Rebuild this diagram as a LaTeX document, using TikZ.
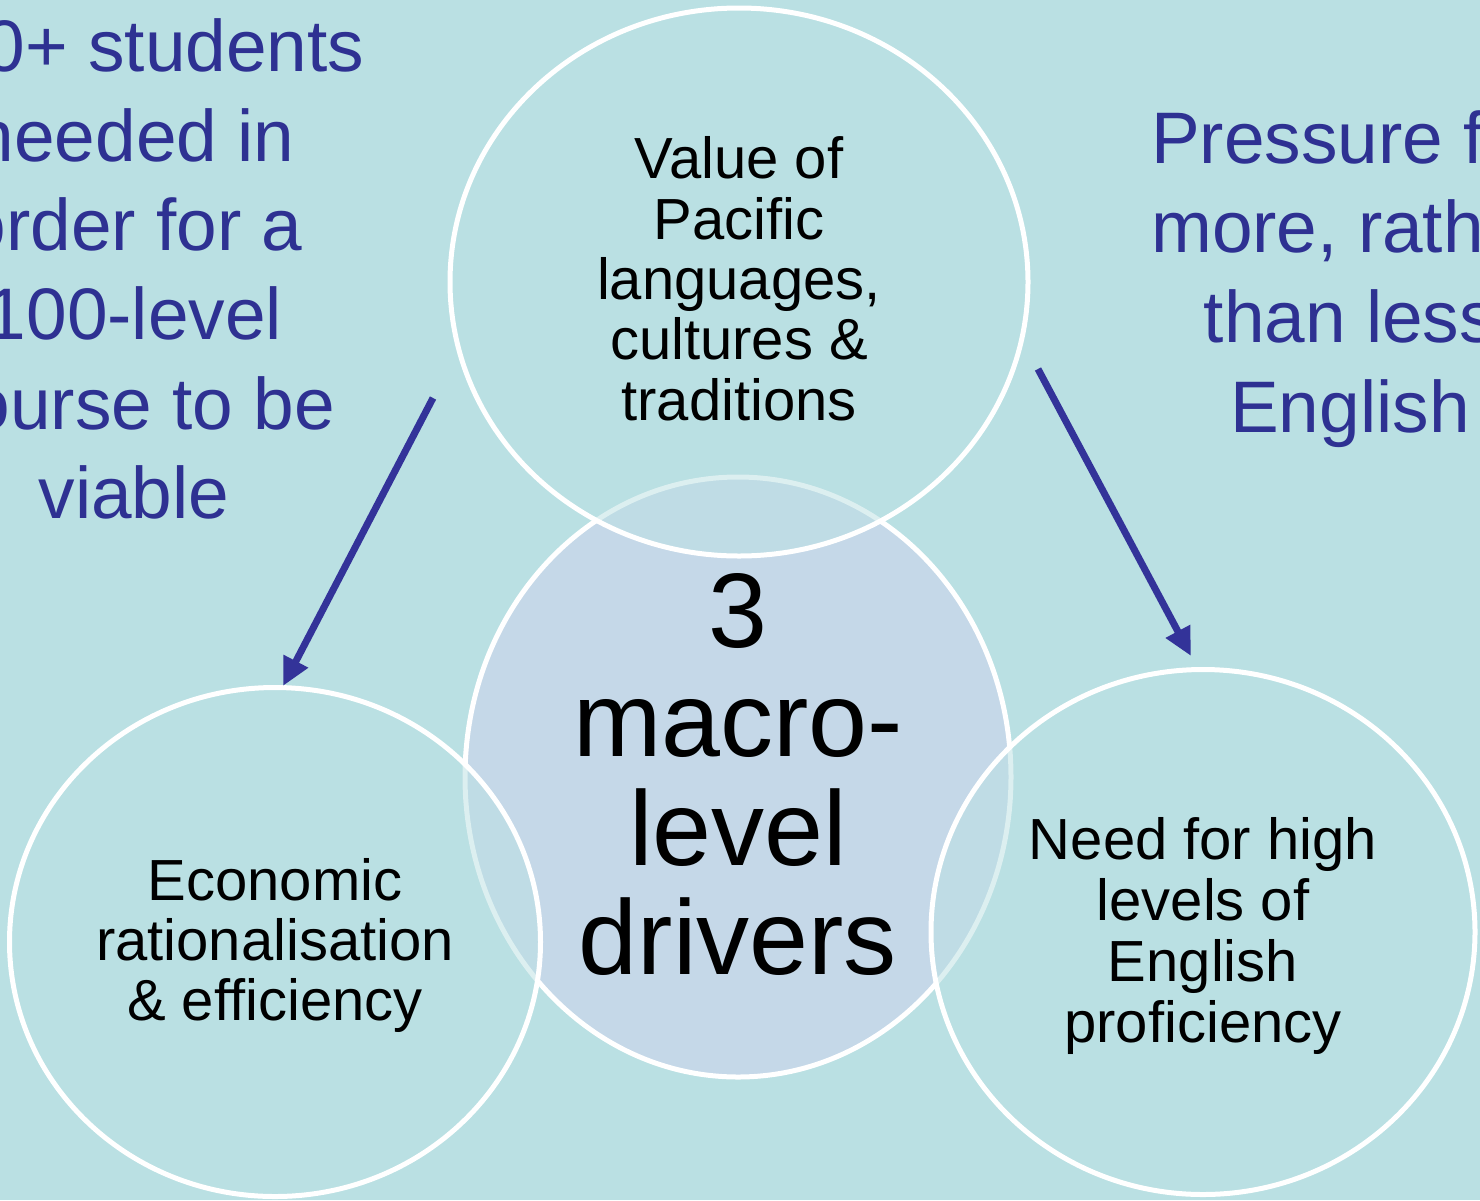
\documentclass[tikz,border=0pt]{standalone}
\usepackage{fontspec}
\setmainfont{Liberation Sans}
\usetikzlibrary{shapes.geometric,arrows.meta}
\definecolor{bgc}{RGB}{186,224,227}
\definecolor{midc}{RGB}{197,216,232}
\definecolor{bluetxt}{RGB}{46,49,146}
\definecolor{arrowc}{RGB}{51,51,153}
\tikzset{
  outer/.style={ellipse, draw=white, line width=5pt, fill=bgc, fill opacity=0.5, text opacity=1, inner sep=0pt, align=center, text=black},
  inner/.style={ellipse, draw=white, draw opacity=1, line width=5pt, fill=midc, inner sep=0pt, align=center, text=black},
  bluenote/.style={anchor=north, inner sep=0pt, align=center, text=bluetxt},
  driverarrow/.style={draw=arrowc, line width=7pt, -{Triangle[length=28pt,width=26pt]}},
}
\begin{document}
\begin{tikzpicture}[x=1pt,y=-1pt]
\useasboundingbox (0,0) rectangle (1480,1200);
\fill[bgc] (0,0) rectangle (1480,1200);
\clip (0,0) rectangle (1480,1200);
% centre circle
\node[inner, minimum width=546pt, minimum height=600pt, font=\fontsize{106}{109.3}\selectfont] (mid) at (738,777)
  {\rule{0pt}{79.5pt}3\\macro-\\level\\drivers\rule[-11.5pt]{0pt}{0pt}};
% outer circles
\node[outer, minimum width=578pt, minimum height=548pt, font=\fontsize{58}{60.3}\selectfont] (top) at (739,282)
  {\rule{0pt}{43.5pt}Value of\\Pacific\\languages,\\cultures \&\\traditions\rule[-8.5pt]{0pt}{0pt}};
\node[outer, minimum width=531pt, minimum height=509pt, font=\fontsize{58}{60}\selectfont] (left) at (275,942)
  {\rule{0pt}{49pt}Economic\\rationalisation\\\& efficiency\rule[-13pt]{0pt}{0pt}};
\node[outer, minimum width=544pt, minimum height=525pt, font=\fontsize{58}{60.7}\selectfont] (right) at (1203,932)
  {\rule{0pt}{51pt}Need for high\\levels of\\English\\proficiency\rule[-13pt]{0pt}{0pt}};
% blue notes
\node[bluenote, font=\fontsize{73}{89.4}\selectfont] (noteL) at (134,13)
  {\rule{0pt}{58.4pt}100+ students\\needed in\\order for a\\100-level\\course to be\\viable};
\node[bluenote, font=\fontsize{73}{89.7}\selectfont] (noteR) at (1350,104.6)
  {\rule{0pt}{58.4pt}Pressure for\\more, rather\\than less\\English};
% arrows
\coordinate (aLs) at (433,398);
\coordinate (aLe) at (283,686);
\coordinate (aRs) at (1038,369);
\coordinate (aRe) at (1191,656);
\draw[driverarrow] (aLs) -- (aLe);
\draw[driverarrow] (aRs) -- (aRe);
\end{tikzpicture}
\end{document}
